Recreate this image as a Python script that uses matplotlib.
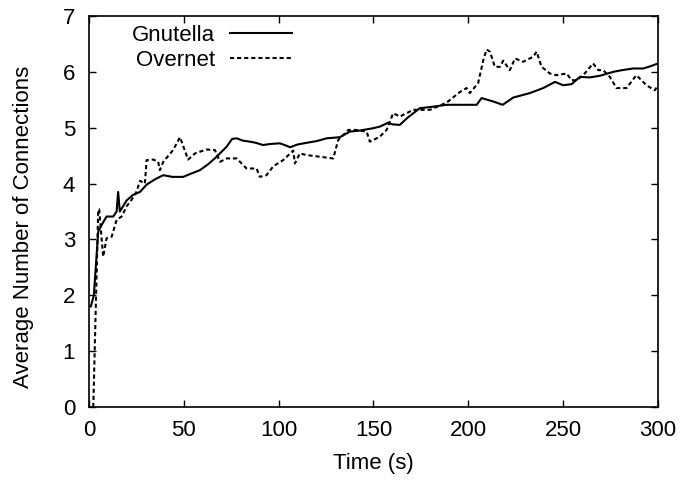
import matplotlib
matplotlib.use('Agg')
import matplotlib.pyplot as plt

plt.rcParams['font.family'] = ['Liberation Sans', 'DejaVu Sans']

# average number of connections per node over time
gnutella_t = [1, 2.6, 4.9, 6.7, 9.3, 12.8, 14.6, 15.4, 16.3, 19.9, 23.4, 26.9, 30.4, 35, 39.2,
              44, 49.7, 54, 58.5, 63, 67.3, 72.6, 75.5, 77.9, 81, 84.9, 88, 91.7, 96, 100.7,
              104, 106, 110, 114.8, 120, 125.3, 132.3, 137.6, 143, 149.7, 153.4, 157.8, 160,
              163.9, 168, 174.5, 180, 188.6, 197.3, 204.4, 207, 213.1, 218.1, 223.7, 232.5,
              239.5, 245.7, 250, 254.5, 258.8, 264, 269.4, 276.4, 281, 286.9, 292.2, 296, 300]
gnutella_v = [1.8, 2.0, 3.14, 3.26, 3.41, 3.41, 3.5, 3.85, 3.5, 3.7, 3.8, 3.85, 3.98, 4.08, 4.15,
              4.12, 4.12, 4.18, 4.24, 4.35, 4.48, 4.66, 4.8, 4.81, 4.77, 4.75, 4.73, 4.69, 4.71, 4.72,
              4.68, 4.65, 4.7, 4.73, 4.76, 4.81, 4.83, 4.93, 4.95, 4.99, 5.02, 5.09, 5.06,
              5.05, 5.18, 5.35, 5.37, 5.41, 5.41, 5.41, 5.53, 5.47, 5.41, 5.54, 5.62,
              5.71, 5.82, 5.76, 5.78, 5.91, 5.9, 5.93, 6.0, 6.03, 6.06, 6.06, 6.1, 6.15]

overnet_t = [2.3, 4.9, 5.4, 7.5, 9.3, 12, 14.6, 17.2, 20, 22.5, 25, 27, 29.5, 30.4, 33.9, 36.5,
             37.4, 39.2, 44.4, 48, 52.3, 55.9, 62, 66.4, 69.1, 72.6, 77.9, 83.1, 88.4, 90.1,
             93.6, 97.2, 102.4, 107.7, 108.6, 111.2, 114.8, 121.8, 128.8, 131.4, 136.7, 141.1,
             146.4, 148.1, 153.4, 156.9, 160.4, 163.9, 171, 179.8, 188.6, 195.6, 199.1, 200.8,
             205.2, 207.9, 209.6, 211.4, 214, 216.7, 218.4, 221.9, 224.6, 228.9, 234.2, 236,
             238.6, 243, 246.5, 251.8, 254.5, 257.1, 260.6, 265.8, 268.5, 271.1, 274.6, 278.1,
             283.4, 288.6, 293.9, 298.3, 300]
overnet_v = [0, 3.53, 3.54, 2.69, 3.02, 3.05, 3.35, 3.41, 3.6, 3.71, 3.85, 4.05, 4.0, 4.42, 4.43, 4.39,
             4.24, 4.39, 4.6, 4.83, 4.43, 4.54, 4.61, 4.6, 4.39, 4.45, 4.45, 4.27, 4.27, 4.12,
             4.15, 4.31, 4.42, 4.59, 4.36, 4.54, 4.51, 4.48, 4.45, 4.78, 4.96, 4.96,
             4.93, 4.75, 4.84, 4.96, 5.26, 5.2, 5.32, 5.32, 5.45, 5.64, 5.71, 5.62,
             5.8, 6.21, 6.4, 6.36, 6.09, 6.09, 6.2, 6.03, 6.24, 6.18, 6.27, 6.36,
             6.09, 5.97, 5.94, 5.97, 5.85, 5.85, 5.94, 6.15, 6.03, 6.03, 5.91, 5.71,
             5.71, 5.94, 5.76, 5.67, 5.76]

fig = plt.figure(figsize=(6.84, 4.84), dpi=100)
ax = fig.add_axes([0.130, 0.159, 0.832, 0.808])

ax.plot(gnutella_t, gnutella_v, color='black', lw=1.5, label='Gnutella')
ax.plot(overnet_t, overnet_v, color='black', lw=1.5, dashes=(2.0, 1.4), label='Overnet')

ax.set_xlim(0, 300)
ax.set_ylim(0, 7)
ax.set_xticks(range(0, 301, 50))
ax.set_yticks(range(0, 8))
ax.tick_params(direction='in', top=True, right=True, length=5, width=1, labelsize=16)
ax.tick_params(axis='x', pad=9)
ax.tick_params(axis='y', pad=10)
for s in ax.spines.values():
    s.set_linewidth(1.2)

ax.set_xlabel('Time (s)', fontsize=16)
ax.set_ylabel('Average Number of Connections', fontsize=16)
ax.xaxis.set_label_coords(0.5, -0.118)
ax.yaxis.set_label_coords(-0.096, 0.46)

ax.legend(loc='upper right', bbox_to_anchor=(0.357, 0.978), frameon=False,
          markerfirst=False, fontsize=16, handlelength=2.8, handletextpad=0.68,
          labelspacing=0.2, borderpad=0, borderaxespad=0)

fig.savefig('out.png', dpi=100)
